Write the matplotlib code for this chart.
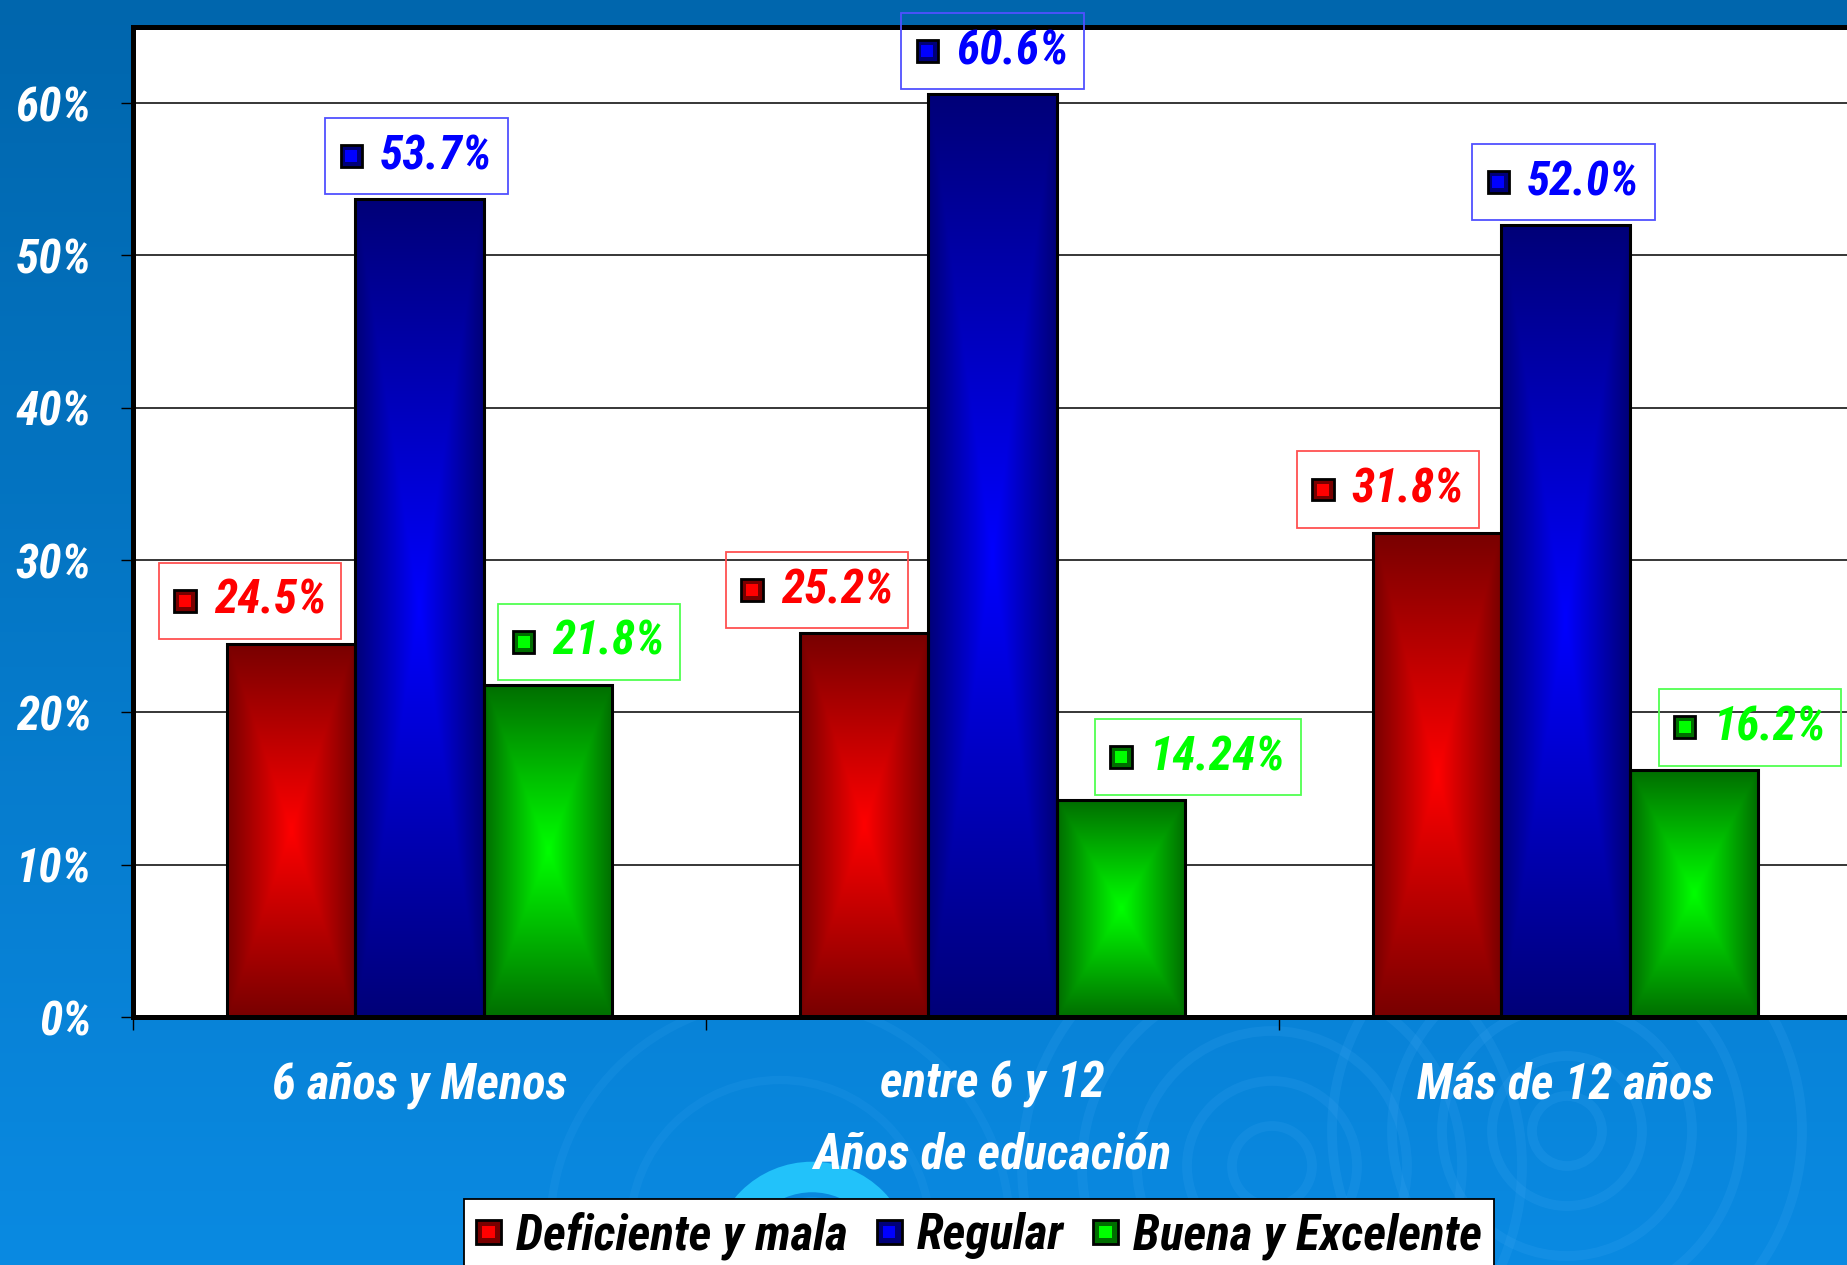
import numpy as np
import matplotlib
matplotlib.use('Agg')
from matplotlib import pyplot as plt
from matplotlib.patches import Rectangle, Circle
from matplotlib.offsetbox import AnnotationBbox, HPacker, TextArea, DrawingArea
from matplotlib.legend_handler import HandlerBase

FUENTE = ['Roboto Condensed', 'DejaVu Sans']
matplotlib.rcParams['font.family'] = FUENTE
matplotlib.rcParams['font.weight'] = 'bold'
matplotlib.rcParams['font.style'] = 'italic'

# datos
categorias = ['6 años y Menos', 'entre 6 y 12', 'Más de 12 años']
series = ['Deficiente y mala', 'Regular', 'Buena y Excelente']
deficiente = [24.5, 25.2, 31.8]
regular = [53.7, 60.6, 52.0]
buena = [21.8, 14.24, 16.2]
etiq_deficiente = ['24.5%', '25.2%', '31.8%']
etiq_regular = ['53.7%', '60.6%', '52.0%']
etiq_buena = ['21.8%', '14.24%', '16.2%']
y_ticks = [0, 10, 20, 30, 40, 50, 60]
y_etiquetas = ['0%', '10%', '20%', '30%', '40%', '50%', '60%']

valores = [deficiente, regular, buena]
etiquetas = [etiq_deficiente, etiq_regular, etiq_buena]

# estilo: (claro, oscuro, texto, borde de etiqueta)
colores = [('#FF0000', '#780000', '#FF0000', '#FF5050'),
           ('#0000FF', '#000078', '#0000FF', '#5050FF'),
           ('#00FF00', '#006E00', '#00FF00', '#50FF50')]
# desplazamiento horizontal (px) de cada etiqueta respecto al centro de su barra
desp = [[-41, -47, -49], [-3, 0, -2], [41, 77, 56]]
ancho = 0.224
W, H = 1847, 1265


def degradado(claro, oscuro, nx=60, ny=200):
    u = np.abs(np.linspace(-1, 1, nx))[None, :]
    v = np.abs(np.linspace(-1, 1, ny))[:, None]
    t = np.maximum(u, v)
    c1 = np.array(matplotlib.colors.to_rgb(claro))
    c2 = np.array(matplotlib.colors.to_rgb(oscuro))
    return c1 * (1 - t[..., None]) + c2 * t[..., None]


class HandlerCuadro(HandlerBase):
    def __init__(self, claro, oscuro):
        super().__init__()
        self.claro, self.oscuro = claro, oscuro

    def create_artists(self, legend, orig_handle, xdescent, ydescent, width, height, fontsize, trans):
        s = min(width, height)
        x0 = (width - s) / 2 - xdescent
        y0 = (height - s) / 2 - ydescent
        a = Rectangle((x0, y0), s, s, facecolor=self.oscuro, edgecolor='black', lw=2, transform=trans)
        b = Rectangle((x0 + s * 0.25, y0 + s * 0.25), s * 0.5, s * 0.5, facecolor=self.claro,
                      edgecolor='none', transform=trans)
        return [a, b]


def etiqueta(ax, x, y, texto, claro, oscuro, c_txt, c_borde, dx):
    da = DrawingArea(15.5, 15.5, 0, 0)
    da.add_artist(Rectangle((0, 0), 15.5, 15.5, facecolor=oscuro, edgecolor='black', lw=2))
    da.add_artist(Rectangle((3.5, 3.5), 8.5, 8.5, facecolor=claro, edgecolor='none'))
    ta = TextArea(texto, textprops=dict(color=c_txt, fontsize=34, fontweight='bold',
                                        fontstyle='italic', family=FUENTE))
    caja = HPacker(children=[da, ta], align='center', pad=0, sep=13)
    ab = AnnotationBbox(caja, (x, y), xybox=(dx, 20), xycoords='data', boxcoords='offset pixels',
                        box_alignment=(0.5, 0), frameon=True, pad=1.1, fontsize=10,
                        bboxprops=dict(edgecolor=c_borde, facecolor='none', linewidth=1.3))
    ab.set_zorder(5)
    ax.add_artist(ab)


def main():
    fig = plt.figure(figsize=(W / 100, H / 100), dpi=100)

    # fondo
    bg = fig.add_axes([0, 0, 1, 1], zorder=-1)
    grad = np.linspace(0, 1, 256)[:, None]
    c_top = np.array(matplotlib.colors.to_rgb('#0066AD'))
    c_bot = np.array(matplotlib.colors.to_rgb('#0A8AE2'))
    img = c_top * (1 - grad[..., None]) + c_bot * grad[..., None]
    bg.imshow(np.repeat(img, 2, axis=1), extent=(0, W, H, 0), aspect='auto')
    for r in [40, 85, 135, 190, 250]:
        bg.add_patch(Circle((1272, 1166), r, fill=False, edgecolor='#3AA6F2', alpha=0.18, lw=7))
    for r in [35, 75, 125, 175, 235]:
        bg.add_patch(Circle((1567, 1131), r, fill=False, edgecolor='#3AA6F2', alpha=0.2, lw=7))
    for r in [150, 230]:
        bg.add_patch(Circle((780, 1230), r, fill=False, edgecolor='#3AA6F2', alpha=0.15, lw=6))
    bg.add_patch(Circle((812, 1262), 85, fill=False, edgecolor='#22C2FA', lw=22))
    bg.add_patch(Circle((812, 1262), 55, fill=False, edgecolor='#1199EE', lw=14))
    bg.set_xlim(0, W)
    bg.set_ylim(H, 0)
    bg.axis('off')

    ax = fig.add_axes([133 / W, 1 - 1017 / H, (1852 - 133) / W, (1017 - 27) / H])
    ax.set_facecolor('white')
    ax.set_axisbelow(True)

    x = np.arange(len(categorias))
    for i, vals in enumerate(valores):
        claro, oscuro, c_txt, c_borde = colores[i]
        pos = x + (i - 1) * ancho
        barras = ax.bar(pos, vals, ancho, facecolor='none', edgecolor='black', lw=2.2, zorder=3)
        for j, b in enumerate(barras):
            x0, w, h = b.get_x(), b.get_width(), b.get_height()
            ax.imshow(degradado(claro, oscuro), extent=(x0, x0 + w, 0, h), aspect='auto',
                      interpolation='bilinear', zorder=2)
            etiqueta(ax, x0 + w / 2, h, etiquetas[i][j], claro, oscuro, c_txt, c_borde, desp[i][j])

    ax.set_xlim(-0.5, 2.5)
    ax.set_ylim(0, 65)
    ax.set_yticks(y_ticks)
    ax.set_yticklabels(y_etiquetas)
    ax.yaxis.grid(True, color='black', lw=1.1)
    ax.set_xticks(x)
    ax.set_xticklabels(categorias)
    ax.set_xticks([-0.5, 0.5, 1.5], minor=True)
    ax.tick_params(axis='x', which='major', length=0, pad=32, labelsize=35, labelcolor='white')
    ax.tick_params(axis='x', which='minor', length=9, width=1, direction='out', color='black')
    ax.tick_params(axis='y', length=9, width=1, direction='out', pad=21, labelsize=34,
                   labelcolor='white', color='black')
    ax.set_xlabel('Años de educación', color='white', fontsize=35, fontweight='bold',
                  fontstyle='italic', labelpad=16)
    for lado in ['left', 'top', 'bottom']:
        ax.spines[lado].set_linewidth(3.6)
        ax.spines[lado].set_color('black')
    ax.spines['right'].set_visible(False)

    manejadores = [Rectangle((0, 0), 1, 1) for _ in series]
    hmap = {h: HandlerCuadro(colores[k][0], colores[k][1]) for k, h in enumerate(manejadores)}
    leg = fig.legend(manejadores, series, handler_map=hmap, ncol=3, loc='upper center',
                     bbox_to_anchor=(0.530, 1 - 1199 / H), fontsize=35.5, frameon=True,
                     fancybox=False, edgecolor='black', framealpha=1, borderaxespad=0,
                     borderpad=0.25, handlelength=0.5, handleheight=0.55, handletextpad=0.3,
                     columnspacing=0.6)
    leg.get_frame().set_linewidth(1.3)

    fig.savefig('out.png', dpi=100)


if __name__ == '__main__':
    main()
